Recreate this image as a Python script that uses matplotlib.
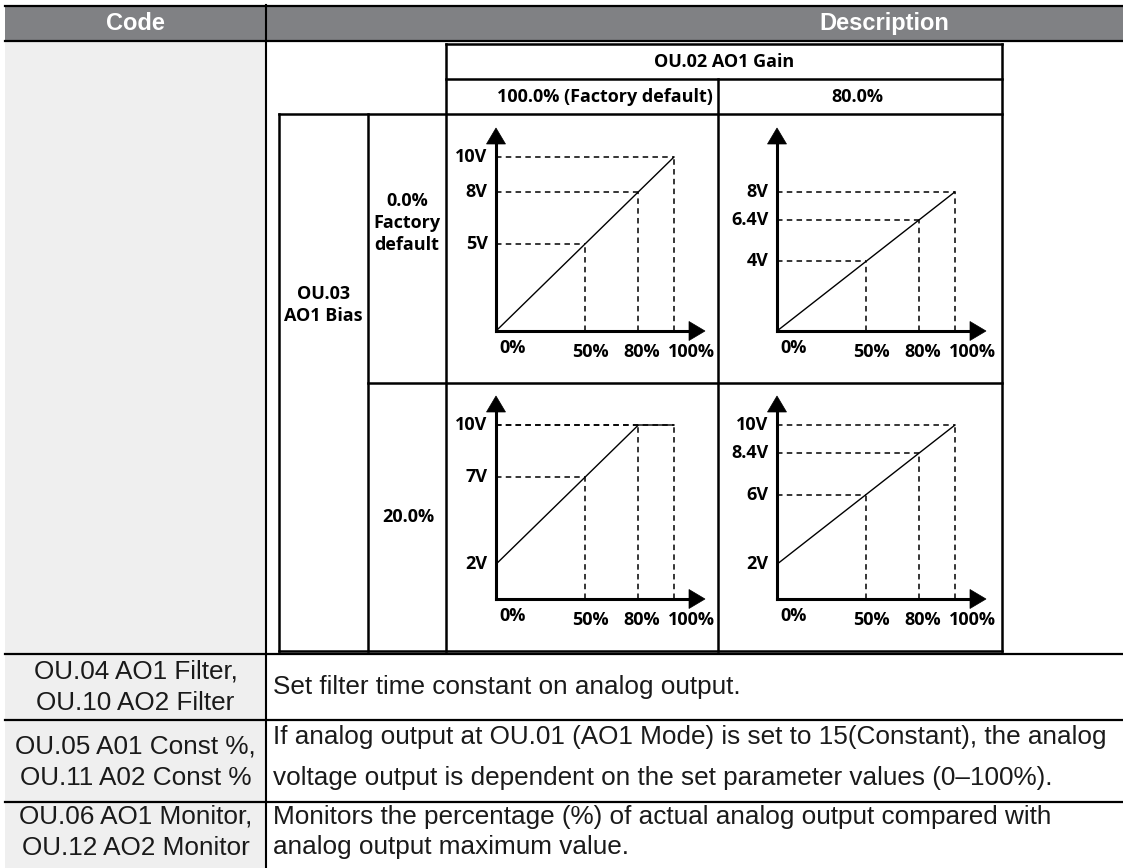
import matplotlib
matplotlib.use("Agg")
import matplotlib.pyplot as plt
from matplotlib.patches import Rectangle, Polygon

# ---------------- data ----------------
header_labels = ["Code", "Description"]
gain_title = "OU.02 AO1 Gain"
gain_labels = ["100.0% (Factory default)", "80.0%"]
bias_title = "OU.03\nAO1 Bias"
bias_labels = ["0.0%\nFactory\ndefault", "20.0%"]
x_pct = [0, 50, 80, 100]
x_tick_labels = ["0%", "50%", "80%", "100%"]
volts_bias0_gain100 = [0, 5, 8, 10]
volts_bias0_gain80 = [0, 4, 6.4, 8]
volts_bias20_gain100 = [2, 7, 10, 10]
volts_bias20_gain80 = [2, 6, 8.4, 10]
code_rows = ["OU.04 AO1 Filter,\nOU.10 AO2 Filter",
             "OU.05 A01 Const %,\nOU.11 A02 Const %",
             "OU.06 AO1 Monitor,\nOU.12 AO2 Monitor"]
desc_rows = ["Set filter time constant on analog output.",
             "If analog output at OU.01 (AO1 Mode) is set to 15(Constant), the analog\n"
             "voltage output is dependent on the set parameter values (0\u2013100%).",
             "Monitors the percentage (%) of actual analog output compared with\n"
             "analog output maximum value."]

# ---------------- layout ----------------
W, H = 1123, 868
fig = plt.figure(figsize=(W / 100, H / 100), dpi=100)
fig.patch.set_facecolor("white")

bg = fig.add_axes([0, 0, 1, 1])
bg.set_xlim(0, W)
bg.set_ylim(H, 0)
bg.axis("off")

ARIAL = ["Liberation Sans", "DejaVu Sans"]
MYRIAD = ["Open Sans", "DejaVu Sans"]
TXT = "#1a1a1a"

# main table background
bg.add_patch(Rectangle((5, 41), 261, H - 41, facecolor="#efefef", edgecolor="none"))
bg.add_patch(Rectangle((5, 5), W - 5, 36, facecolor="#808184", edgecolor="none"))

def hline(y, x0, x1, lw=1.6):
    bg.plot([x0, x1], [y, y], color="black", lw=lw, solid_capstyle="projecting")

def vline(x, y0, y1, lw=1.6):
    bg.plot([x, x], [y0, y1], color="black", lw=lw, solid_capstyle="projecting")

hline(5.5, 5, W, lw=1.6)
hline(41, 5, W, lw=1.6)
vline(266, 5, H, lw=1.5)
row_bounds = [(654, 720), (720, 802), (802, 868)]
for top, _ in row_bounds:
    hline(top, 5, W, lw=1.6)

# header text
bg.text(135.5, 23.5, header_labels[0], color="white", fontsize=17, fontweight="bold",
        family=ARIAL, ha="center", va="center")
bg.text(884, 23.5, header_labels[1], color="white", fontsize=17, fontweight="bold",
        family=ARIAL, ha="center", va="center")

# lower rows
code_centers = [687, 762.5, 832]
desc_centers = [687, 757.5, 832]
desc_spacing = [31, 41, 30]
for i, (c, d) in enumerate(zip(code_rows, desc_rows)):
    lines = c.split("\n")
    for k, ln in enumerate(lines):
        y = code_centers[i] + (k - (len(lines) - 1) / 2) * 31.5
        bg.text(135.5, y, ln, fontsize=18.8, family=ARIAL, color=TXT, ha="center", va="center")
    lines = d.split("\n")
    for k, ln in enumerate(lines):
        y = desc_centers[i] + (k - (len(lines) - 1) / 2) * desc_spacing[i]
        bg.text(273, y, ln, fontsize=18.8, family=ARIAL, color=TXT, ha="left", va="center")

# inner table
ILW = 1.8
hline(44, 446, 1002, ILW)
hline(79, 446, 1002, ILW)
hline(114, 279, 1002, ILW)
hline(651, 279, 1002, ILW)
hline(383, 368, 1002, ILW)
vline(279, 114, 651, ILW)
vline(368, 114, 651, ILW)
vline(446, 44, 651, ILW)
vline(718, 79, 651, ILW)
vline(1002, 44, 651, ILW)

GF = dict(family=MYRIAD, fontweight="bold", fontsize=13, color="black")
bg.text(724, 62, gain_title, ha="center", va="center", **GF)
bg.text(605, 97, gain_labels[0], ha="center", va="center", **GF)
bg.text(857, 97, gain_labels[1], ha="center", va="center", **GF)
bg.text(323.5, 305, bias_title, ha="center", va="center", linespacing=1.3, **GF)
bg.text(407, 223, bias_labels[0], ha="center", va="center", linespacing=1.25, **GF)
bg.text(408, 517, bias_labels[1], ha="center", va="center", **GF)

# ---------------- graphs ----------------
PX_PCT = 1.78      # pixels per percent
PX_V = 17.4        # pixels per volt
origins_x = [496, 777]
origins_y = [331, 599]
graphs = [[volts_bias0_gain100, volts_bias0_gain80],
          [volts_bias20_gain100, volts_bias20_gain80]]

Y_TIP = 203 / PX_V
Y_BASE = 187 / PX_V
X_TIP = 209 / PX_PCT
X_BASE = 193 / PX_PCT
HW_X = 9.5 / PX_PCT
HW_Y = 9.5 / PX_V

xlab_off = [(12, -12.3), (4.1, -15), (2.3, -15), (12.5, -15)]
DASH = (0, (3.6, 2.8))

for r in range(2):
    for c in range(2):
        volts = graphs[r][c]
        ox, oy = origins_x[c], origins_y[r]
        ax = fig.add_axes([ox / W, (H - oy) / H, 100 * PX_PCT / W, 10 * PX_V / H])
        ax.set_xlim(0, 100)
        ax.set_ylim(0, 10)
        ax.axis("off")
        # dashed guides
        for x, v in zip(x_pct[1:], volts[1:]):
            ax.plot([0, x], [v, v], color="black", lw=1.1, ls=DASH, clip_on=False)
            ax.plot([x, x], [0, v], color="black", lw=1.1, ls=DASH, clip_on=False)
        # characteristic line
        ax.plot(x_pct, volts, color="black", lw=1.0, clip_on=False)
        # axes with arrows
        ax.plot([0, 0], [0, Y_BASE], color="black", lw=2.2, clip_on=False,
                solid_capstyle="projecting")
        ax.plot([0, X_BASE], [0, 0], color="black", lw=2.2, clip_on=False,
                solid_capstyle="projecting")
        ax.add_patch(Polygon([(-HW_X, Y_BASE), (HW_X, Y_BASE), (0, Y_TIP)], closed=True,
                             facecolor="black", edgecolor="black", lw=0.5, clip_on=False))
        ax.add_patch(Polygon([(X_BASE, -HW_Y), (X_BASE, HW_Y), (X_TIP, 0)], closed=True,
                             facecolor="black", edgecolor="black", lw=0.5, clip_on=False))
        # y labels
        ylabs = set(volts[1:])
        if volts[0] > 0:
            ylabs.add(volts[0])
        for v in sorted(ylabs):
            ax.annotate(f"{v:g}V", xy=(0, v), xytext=(-6, 0), textcoords="offset points",
                        ha="right", va="center", annotation_clip=False, **GF)
        # x labels
        for x, lab, off in zip(x_pct, x_tick_labels, xlab_off):
            ax.annotate(lab, xy=(x, 0), xytext=off, textcoords="offset points",
                        ha="center", va="center", annotation_clip=False, **GF)

fig.savefig("out.png", dpi=100, facecolor="white")
